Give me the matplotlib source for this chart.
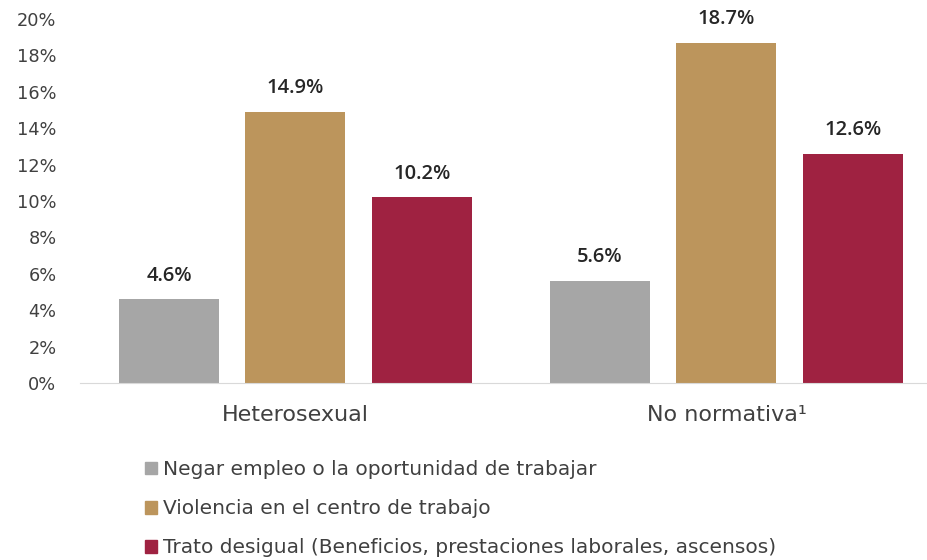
import numpy as np
import matplotlib.pyplot as plt
from matplotlib.patches import Patch

# datos
grupos = ["Heterosexual", "No normativa\u00b9"]
series = [
    "Negar empleo o la oportunidad de trabajar",
    "Violencia en el centro de trabajo",
    "Trato desigual (Beneficios, prestaciones laborales, ascensos)",
]
valores = [
    [4.6, 5.6],
    [14.9, 18.7],
    [10.2, 12.6],
]
colores = ["#A6A6A6", "#BC955C", "#9F2241"]
yticks = [0, 2, 4, 6, 8, 10, 12, 14, 16, 18, 20]

plt.rcParams['font.family'] = ['DejaVu Sans']

fig = plt.figure(figsize=(9.28, 5.6), dpi=100)
ax = fig.add_axes([80 / 928, 177 / 560, 849 / 928, 364 / 560])

x = np.arange(len(grupos))
ancho = 0.232
paso = 0.2935
for i, (nombre, vals) in enumerate(zip(series, valores)):
    pos = x + (i - 1) * paso
    ax.bar(pos, vals, width=ancho, color=colores[i], label=nombre)
    for px, v in zip(pos, vals):
        ax.text(px, v + 1.3, f"{v:.1f}%", ha="center", va="center",
                fontsize=14.5, color="#262626", fontweight=600,
                family=["Open Sans", "DejaVu Sans"])

ax.set_xlim(-0.5, 1.47)
ax.set_ylim(0, 20)
ax.set_yticks(yticks)
ax.set_yticklabels([f"{t}%" for t in yticks], fontsize=12.8, color="#404040")
ax.set_xticks(x)
ax.set_xticklabels(grupos, fontsize=16, color="#404040")
ax.tick_params(axis="x", length=0, pad=16)
ax.tick_params(axis="y", length=0, pad=17)
for s in ["top", "right", "left"]:
    ax.spines[s].set_visible(False)
ax.spines["bottom"].set_color("#D9D9D9")

handles = [Patch(color=c) for c in colores]
fig.legend(handles, series, loc="upper left", bbox_to_anchor=(127 / 928, 1 - 442 / 560),
           frameon=False, handlelength=0.6, handleheight=0.6,
           handletextpad=0.3, labelspacing=1.0, labelcolor="#404040",
           prop={"family": ["DejaVu Sans"], "size": 14.5})

fig.savefig("out.png", dpi=100)
